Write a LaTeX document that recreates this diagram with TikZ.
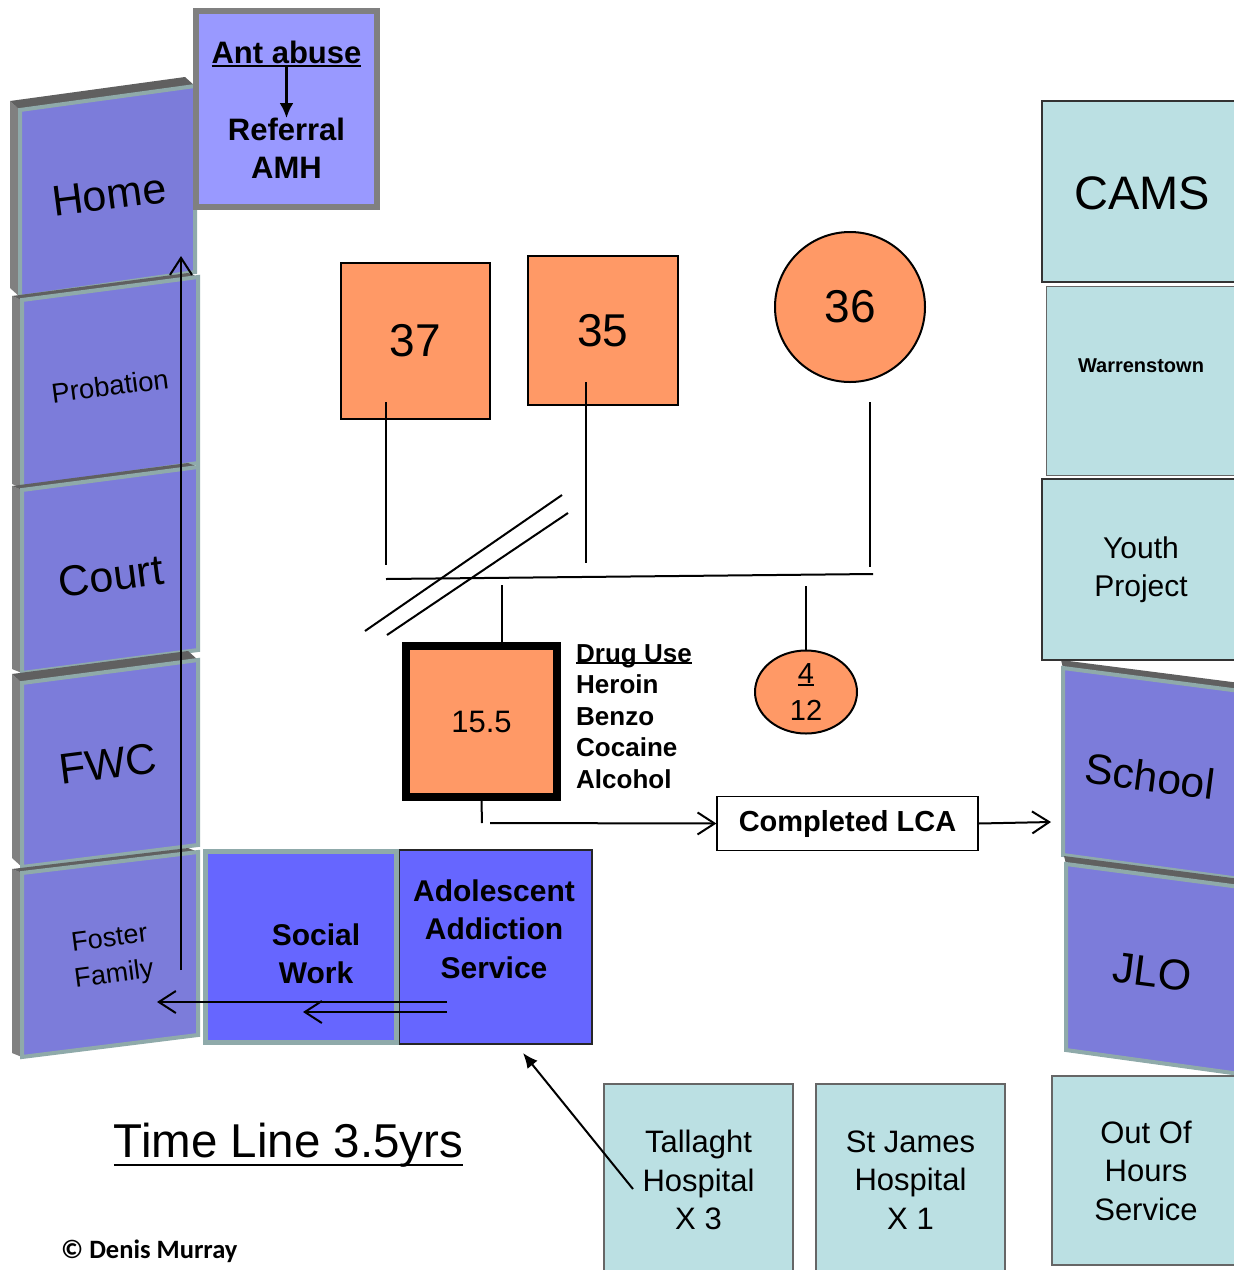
\documentclass[tikz,border=0pt]{standalone}
\usepackage{fontspec}
\setmainfont{Liberation Sans}
\newfontfamily\calibri{Carlito}
\usetikzlibrary{arrows.meta,shapes.geometric}
\definecolor{tilefill}{RGB}{124,124,218}
\definecolor{tileedge}{RGB}{143,170,170}
\definecolor{tileside}{RGB}{128,128,128}
\definecolor{tiletopc}{RGB}{96,96,96}
\definecolor{antfill}{RGB}{153,153,255}
\definecolor{antedge}{RGB}{128,128,128}
\definecolor{orangec}{RGB}{255,153,102}
\definecolor{tealc}{RGB}{187,224,227}
\definecolor{bluec}{RGB}{102,102,255}
\newsavebox\ulbox
\newcommand\myul[3]{\leavevmode\sbox\ulbox{#3}\rlap{\rule[-#1]{\wd\ulbox}{#2}}\usebox\ulbox}
\newcommand\fsz[2]{\fontsize{#1}{#2}\selectfont}
% left tile: TLx TLy TRx TRy BRx BRy BLx BLy topshift
\newcommand\lefttile[9]{%
  \fill[tileside] (#1-10,#2-#9) -- (#1,#2) -- (#7,#8) -- (#7-10,#8-#9) -- cycle;
  \fill[tiletopc] (#1-10,#2-#9) -- (#3-10,#4-#9) -- (#3,#4) -- (#1,#2) -- cycle;
  \draw[tileface] (#1,#2) -- (#3,#4) -- (#5,#6) -- (#7,#8) -- cycle;}
\newcommand\righttile[8]{%
  \fill[tiletopc] (#1-2,#2-8) -- (#3,#4-8) -- (#3,#4) -- (#1,#2) -- cycle;
  \draw[tileface] (#1,#2) -- (#3,#4) -- (#5,#6) -- (#7,#8) -- cycle;}
\begin{document}
\begin{tikzpicture}[x=1pt,y=-1pt,
  conn/.style={line width=2pt},
  openarrow/.style={conn,-{Straight Barb[length=17pt,width=22pt]}},
  fillarrow/.style={conn,-{Latex[length=15pt,width=13pt]}},
  tileface/.style={fill=tilefill,draw=tileedge,line width=4pt,line join=miter},
  tlabel/.style={inner sep=0pt,align=center},
  obox/.style={draw=black,line width=2pt,fill=orangec,inner sep=0pt,font=\fsz{46}{50}},
  tbox/.style={draw=black!80,line width=1.5pt,fill=tealc,inner sep=0pt,align=center},
  bbox/.style={inner sep=0pt,align=center,font=\bfseries\fsz{30}{38.5}},
]
\useasboundingbox (0,0) rectangle (1234,1270);
\clip (0,0) rectangle (1234,1270);
\fill[white] (0,0) rectangle (1234,1270);

% ---- left column tiles
\lefttile{20}{110}{195}{86}{195}{272}{20}{297}{9}
\lefttile{22}{300}{198}{277}{198}{463}{22}{488}{4}
\lefttile{22}{490}{198}{467}{198}{650}{22}{673}{4}
\lefttile{22}{683}{198}{660}{198}{845}{22}{867}{9}
\lefttile{22}{873}{198}{852}{198}{1035}{22}{1057}{4}
\node[tlabel,rotate=7.4,font=\fsz{43}{50}] (home) at (109,195) {Home};
\node[tlabel,rotate=7.4,font=\fsz{27.5}{32}] (probation) at (110,386) {Probation};
\node[tlabel,rotate=7.4,font=\fsz{43}{50}] (court) at (111,576) {Court};
\node[tlabel,rotate=7.4,font=\fsz{43}{50}] (fwc) at (108,764) {FWC};
\node[tlabel,rotate=7.4,font=\fsz{27}{36}] (foster) at (112,958) {Foster\\Family};

% ---- right tiles
\righttile{1063}{668}{1240}{691}{1240}{879}{1063}{855}
\righttile{1066}{864}{1240}{887}{1240}{1074}{1066}{1050}
\node[tlabel,rotate=-7.4,font=\fsz{42.5}{50}] (school) at (1150,776) {School};
\node[tlabel,rotate=-7.4,font=\fsz{43}{50}] (jlo) at (1152,972) {JLO};

% ---- Ant abuse box
\node[draw=antedge,fill=antfill,line width=6pt,minimum width=181,minimum height=196,inner sep=0pt] (ant) at (286.5,109) {};
\node[anchor=base,inner sep=0pt,font=\bfseries\fsz{31}{38}] (antabuse) at (286.5,63) {\myul{4pt}{2.5pt}{Ant abuse}};
\node[anchor=north,bbox,font=\bfseries\fsz{31}{38}] (referral) at (286.5,118) {Referral\\AMH};
\draw[conn,line width=2.5pt,-{Latex[length=15pt,width=14pt]}] (antabuse.south) -- (referral.north);

% ---- right column boxes
\node[tbox,minimum width=198,minimum height=181] (cams) at (1141,191.5) {};
\node[tlabel,font=\fsz{47}{50}] (camstxt) at (1142,193) {CAMS};
\node[tbox,draw=black!60,line width=1pt,minimum width=194,minimum height=189] (warr) at (1143,380.5) {};
\node[tlabel,font=\bfseries\fsz{20}{24}] (warrtxt) at (1141,366) {Warrenstown};
\node[tbox,minimum width=198,minimum height=181,font=\fsz{30}{38}] (youth) at (1141,569.5) {Youth\\Project};

% ---- bottom boxes
\node[tbox,draw=black!60,minimum width=189,minimum height=192,font=\fsz{31}{38.5}] (tallaght) at (698.5,1180) {Tallaght\\Hospital\\X 3};
\node[tbox,draw=black!60,minimum width=189,minimum height=192,font=\fsz{31}{38.5}] (stjames) at (910.5,1180) {St James\\Hospital\\X 1};
\node[tbox,draw=black!60,minimum width=188,minimum height=189,font=\fsz{31}{38.5}] (ooh) at (1146,1170.5) {Out Of\\Hours\\Service};

% ---- Social work / AAS
\node[draw=black!85,line width=1.5pt,fill=bluec,minimum width=193,minimum height=194,inner sep=0pt] (aas) at (495.5,947) {};
\node[draw=tileedge,line width=5pt,fill=bluec,minimum width=191,minimum height=191,inner sep=0pt] (sw) at (301,947) {};
\node[bbox] (swtxt) at (316,954) {Social\\Work};
\node[bbox] (aastxt) at (494,929) {Adolescent\\Addiction\\Service};

% ---- family
\node[obox,minimum width=149,minimum height=156] (n37) at (415.5,341) {37};
\node[obox,minimum width=150,minimum height=149] (n35) at (603,330.5) {35};
\node[obox,circle,minimum size=150] (n36) at (850,307) {36};
\node[draw=black,line width=8pt,fill=orangec,minimum size=151,inner sep=0pt,font=\fsz{31}{36}] (n155) at (481.5,721.5) {15.5};
\node[draw=black,line width=2pt,fill=orangec,ellipse,minimum width=102,minimum height=83,inner sep=0pt,align=center,font=\fsz{29}{37}] (n412) at (806,692) {\myul{3pt}{2pt}{4}\\12};

\coordinate (a37) at (386,402); \coordinate (b37) at (386,565);
\coordinate (a35) at (586,382); \coordinate (b35) at (586,563);
\coordinate (a36) at (870,402); \coordinate (b36) at (870,567);
\coordinate (h1) at (386,579); \coordinate (h2) at (873,574);
\coordinate (c1) at (502,585);
\coordinate (e1) at (806,586);
\coordinate (d1a) at (365,631); \coordinate (d1b) at (562,495);
\coordinate (d2a) at (387,635); \coordinate (d2b) at (568,513);
\draw[conn] (a37) -- (b37);
\draw[conn] (a35) -- (b35);
\draw[conn] (a36) -- (b36);
\draw[conn] (h1) -- (h2);
\draw[conn] (c1) -- (c1 |- n155.north);
\draw[conn] (e1) -- (n412.north);
\draw[conn] (d1a) -- (d1b);
\draw[conn] (d2a) -- (d2b);

% ---- drug use
\node[anchor=north west,inner sep=0pt,align=left,font=\bfseries\fsz{26}{31.5}] (drugs) at (576,644) {\myul{2pt}{2pt}{Drug Use}\\Heroin\\Benzo\\Cocaine\\Alcohol};

% ---- LCA
\node[draw=black,line width=1.2pt,fill=white,minimum width=261,minimum height=54,inner sep=0pt,font=\bfseries\fsz{29}{32}] (lca) at (847.5,823.5) {Completed LCA};
\coordinate (s1) at (482,823);
\coordinate (s2) at (490,823);
\coordinate (tipschool) at (1051,822);
\draw[conn] (n155.south) -- (s1);
\draw[openarrow] (s2) -- (lca.west);
\draw[openarrow] (lca.east) -- (tipschool);

% ---- long arrows
\coordinate (v1) at (181,970); \coordinate (v2) at (181,256);
\draw[openarrow] (v1) -- (v2);
\coordinate (f1) at (447,1002); \coordinate (f2) at (157,1002);
\draw[openarrow] (f1) -- (f2);
\coordinate (g1) at (447,1012); \coordinate (g2) at (303,1012);
\draw[openarrow] (g1) -- (g2);
\coordinate (t1) at (633,1189); \coordinate (t2) at (523,1053);
\draw[fillarrow] (t1) -- (t2);

% ---- titles
\node[anchor=base,inner sep=0pt,font=\fsz{47.5}{50}] (timeline) at (288.5,1157) {\myul{9pt}{2.5pt}{Time Line 3.5yrs}};
\node[anchor=base west,inner sep=0pt,font=\calibri\bfseries\fsz{26.5}{30}] (copyr) at (61,1258) {© Denis Murray};
\end{tikzpicture}
\end{document}
